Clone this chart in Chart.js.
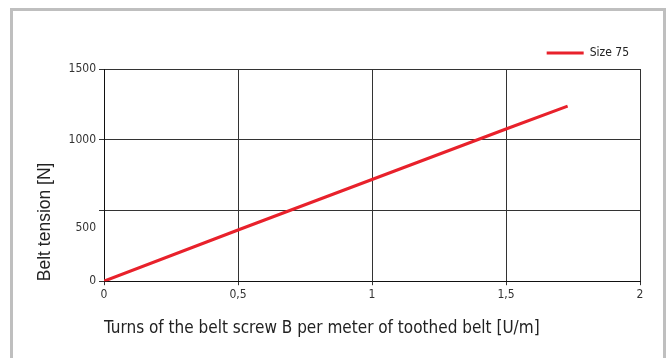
<!DOCTYPE html>
<html>
<head>
<meta charset="utf-8">
<script src="https://cdn.jsdelivr.net/npm/chart.js@4"></script>
<style>
    body { margin: 0; background: #fff; }
    #frame { position: absolute; left: 10px; top: 8px; width: 650px; height: 400px; border: 3px solid #bfbfbf; }
    #wrap { position: absolute; left: 0; top: 0; width: 669px; height: 358px; }
</style>
</head>
<body>
<div id="frame"></div>
<div id="wrap"><canvas id="myChart"></canvas></div>
<script>
// Size 75 curve
var turns = [0, 0.5, 1, 1.5, 1.73];
var tension = [0, 362, 719, 1076, 1238];
var seriesName = 'Size 75';

// y axis: gridlines and where the labels sit (the 500 label sits below its gridline)
var yGridValues = [0, 500, 1000, 1500];
var yLabelValues = [0, 375, 1000, 1500];
var yTickLabels = ['0', '500', '1000', '1500'];
var xTickValues = [0, 0.5, 1, 1.5, 2];

var lineColor = '#e8212b';
var gridColor = '#333333';
var narrow = "'Liberation Sans Narrow', 'DejaVu Sans Condensed', Arial, sans-serif";

var pts = [];
for (let i = 0; i < turns.length; i++) {
    pts.push({ x: turns[i], y: tension[i] });
}

function onGrid(ctx) {
    return yGridValues.indexOf(ctx.tick.value) >= 0 ? gridColor : 'rgba(0,0,0,0)';
}

var ctx = document.getElementById('myChart');
var chart = new Chart(ctx, {
    type: 'line',
    data: {
        datasets: [
            {
                label: seriesName,
                data: pts,
                borderColor: lineColor,
                backgroundColor: lineColor,
                borderWidth: 3,
                pointRadius: 0,
                tension: 0,
                fill: false
            }
        ]
    },
    options: {
        responsive: true,
        maintainAspectRatio: false,
        animation: false,
        layout: { padding: { left: 30, right: 29, top: 36, bottom: 19 } },
        scales: {
            x: {
                type: 'linear',
                min: 0,
                max: 2,
                afterBuildTicks: function (scale) {
                    scale.ticks = xTickValues.map(v => ({ value: v }));
                },
                ticks: {
                    autoSkip: false,
                    maxRotation: 0,
                    padding: 2,
                    color: '#333',
                    font: { family: narrow, size: 12 },
                    callback: v => String(v).replace('.', ',')
                },
                grid: { color: gridColor, lineWidth: 1, tickLength: 4, tickColor: gridColor },
                border: { color: '#111', width: 1 },
                title: {
                    display: true,
                    align: 'start',
                    text: 'Turns of the belt screw B per meter of toothed belt [U/m]',
                    color: '#222',
                    font: { family: narrow, size: 17 },
                    padding: { top: 15, bottom: 0 }
                }
            },
            y: {
                type: 'linear',
                min: 0,
                max: 1500,
                afterBuildTicks: function (scale) {
                    let vals = yLabelValues.concat(yGridValues.filter(v => yLabelValues.indexOf(v) < 0));
                    vals.sort((a, b) => a - b);
                    scale.ticks = vals.map(v => ({ value: v }));
                },
                afterFit: function (scale) {
                    scale.width = 74;
                },
                ticks: {
                    autoSkip: false,
                    padding: 3,
                    color: '#333',
                    font: { family: narrow, size: 12 },
                    callback: function (v) {
                        let k = yLabelValues.indexOf(v);
                        return k >= 0 ? yTickLabels[k] : '';
                    }
                },
                grid: { color: onGrid, tickColor: onGrid, lineWidth: 1, tickLength: 5 },
                border: { color: '#111', width: 1 },
                title: {
                    display: true,
                    align: 'start',
                    text: 'Belt tension [N]',
                    color: '#222',
                    font: { family: 'Arial, sans-serif', size: 17.5 },
                    padding: { top: 5, bottom: 0 }
                }
            }
        },
        plugins: {
            legend: {
                position: 'top',
                align: 'end',
                labels: {
                    boxWidth: 37,
                    boxHeight: 3,
                    padding: 11,
                    color: '#222',
                    font: { family: narrow, size: 12 },
                    generateLabels: function (chart) {
                        let items = Chart.defaults.plugins.legend.labels.generateLabels(chart);
                        items.forEach(it => { it.lineWidth = 0; it.fillStyle = lineColor; });
                        return items;
                    }
                }
            },
            tooltip: { enabled: false }
        }
    }
});
</script>
</body>
</html>
